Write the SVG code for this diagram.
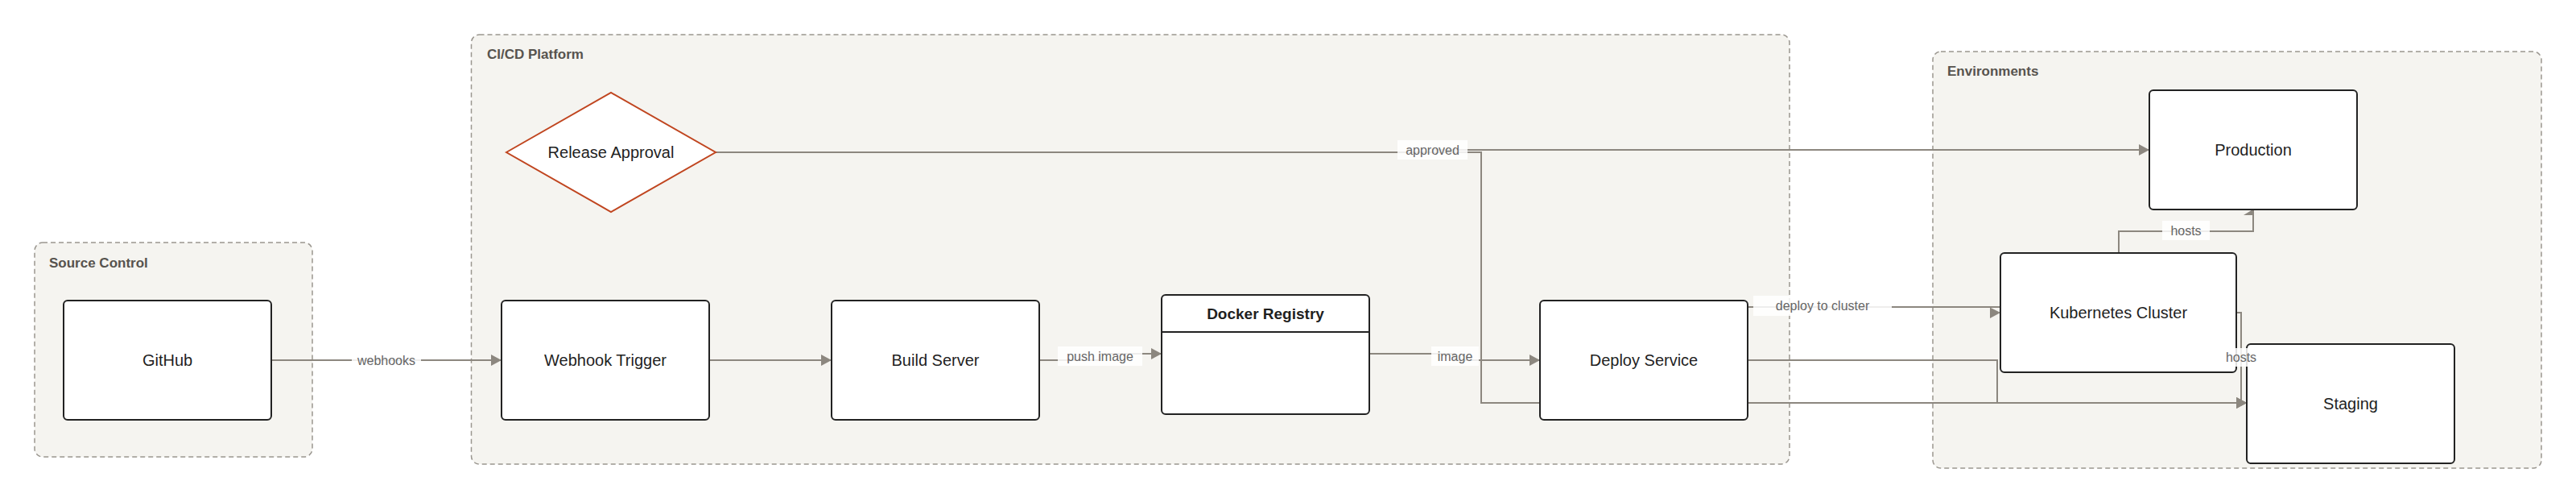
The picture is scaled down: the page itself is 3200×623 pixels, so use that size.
<svg xmlns="http://www.w3.org/2000/svg" width="3200" height="623" viewBox="0 0 3200 623">
<defs>
<style>
.grp{fill:#f5f4f0;stroke:#9a968f;stroke-width:1.5;stroke-dasharray:6 4}
.glbl{font-family:"Liberation Sans",Arial,sans-serif;font-size:17px;font-weight:bold;fill:#57534e}
.node{fill:#ffffff;stroke:#222222;stroke-width:2}
.ntxt{font-family:"Liberation Sans",Arial,sans-serif;font-size:20px;fill:#1f1f1f;text-anchor:middle}
.ttl{font-family:"Liberation Sans",Arial,sans-serif;font-size:19px;font-weight:bold;fill:#1f1f1f;text-anchor:middle}
.edge{fill:none;stroke:#8c877f;stroke-width:2}
.lbg{fill:#ffffff;fill-opacity:0.85}
.ltxt{font-family:"Liberation Sans",Arial,sans-serif;font-size:16px;fill:#666666;text-anchor:middle}
.ah{fill:#8c877f}
</style>
<marker id="arr" viewBox="0 0 13 14" refX="13" refY="7" markerWidth="13" markerHeight="14" markerUnits="userSpaceOnUse" orient="auto">
<path d="M0,0 L13,7 L0,14 z" fill="#8c877f"/>
</marker>
</defs>
<rect x="0" y="0" width="3200" height="623" fill="#ffffff"/>

<g id="cluster-source-control">
<rect class="grp" x="43" y="301" width="345" height="266" rx="10"/>
<text class="glbl" x="61" y="332">Source Control</text>
</g>
<g id="cluster-cicd">
<rect class="grp" x="585.5" y="43" width="1637.5" height="533" rx="10"/>
<text class="glbl" x="605" y="73">CI/CD Platform</text>
</g>
<g id="cluster-environments">
<rect class="grp" x="2401" y="64" width="756" height="517" rx="10"/>
<text class="glbl" x="2419" y="94">Environments</text>
</g>

<g id="connectors">
<path class="edge" d="M337,447 L623,447" marker-end="url(#arr)"/>
<path class="edge" d="M881,447 L1033,447" marker-end="url(#arr)"/>
<path class="edge" d="M1291,447 L1366,447 L1366,439 L1443,439" marker-end="url(#arr)"/>
<path class="edge" d="M1701,439 L1807,439 L1807,447 L1913,447" marker-end="url(#arr)"/>
<path class="edge" d="M889,189 L1780,189 L1780,186 L2670,186" marker-end="url(#arr)"/>
<path class="edge" d="M1780,189 L1840,189 L1840,500 L2791,500" marker-end="url(#arr)"/>
<path class="edge" d="M2172,381 L2485,381"/>
<polygon class="ah" points="2472,381.5 2485,388 2472,395"/>
<path class="edge" d="M2172,447 L2481,447 L2481,500 L2791,500" marker-end="url(#arr)"/>
<path class="edge" d="M2632,314 L2632,287 L2799,287 L2799,260"/>
<polygon class="ah" points="2787,267 2799,259.5 2799,267"/>
<path class="edge" d="M2778,388 L2784,388 L2784,500 L2791,500"/>
<polygon class="ah" points="2778,493 2791,500 2778,507"/>
</g>

<g id="node-github">
<rect class="node" x="79" y="373" width="258" height="148" rx="5"/>
<text class="ntxt" x="208" y="454">GitHub</text>
</g>
<g id="node-webhook-trigger">
<rect class="node" x="623" y="373" width="258" height="148" rx="5"/>
<text class="ntxt" x="752" y="454">Webhook Trigger</text>
</g>
<g id="node-build-server">
<rect class="node" x="1033" y="373" width="258" height="148" rx="5"/>
<text class="ntxt" x="1162" y="454">Build Server</text>
</g>
<g id="node-docker-registry">
<rect class="node" x="1443" y="366" width="258" height="148" rx="5"/>
<line x1="1443" y1="412" x2="1701" y2="412" stroke="#222222" stroke-width="2"/>
<text class="ttl" x="1572" y="396">Docker Registry</text>
</g>
<g id="node-deploy-service">
<rect class="node" x="1913" y="373" width="258" height="148" rx="5"/>
<text class="ntxt" x="2042" y="454">Deploy Service</text>
</g>
<g id="node-release-approval">
<polygon points="629,189 759,115 889,189 759,263" fill="#ffffff" stroke="#c0451f" stroke-width="2"/>
<text class="ntxt" x="759" y="196">Release Approval</text>
</g>
<g id="node-production">
<rect class="node" x="2670" y="112" width="258" height="148" rx="5"/>
<text class="ntxt" x="2799" y="193">Production</text>
</g>
<g id="node-kubernetes-cluster">
<rect class="node" x="2485" y="314" width="293" height="148" rx="5"/>
<text class="ntxt" x="2631.5" y="395">Kubernetes Cluster</text>
</g>
<g id="node-staging">
<rect class="node" x="2791" y="427" width="258" height="148" rx="5"/>
<text class="ntxt" x="2920" y="508">Staging</text>
</g>

<g id="connector-labels">
<rect class="lbg" x="437" y="435" width="86" height="24"/>
<text class="ltxt" x="480" y="452.5">webhooks</text>
<rect class="lbg" x="1314" y="430" width="105" height="24"/>
<text class="ltxt" x="1366.5" y="447.5">push image</text>
<rect class="lbg" x="1778" y="430" width="59" height="24"/>
<text class="ltxt" x="1807.5" y="447.5">image</text>
<rect class="lbg" x="1736" y="174" width="87" height="24"/>
<text class="ltxt" x="1779.5" y="191.5">approved</text>
<rect class="lbg" x="2178" y="367" width="172" height="25"/>
<text class="ltxt" x="2264" y="385">deploy to cluster</text>
<rect class="lbg" x="2686" y="274" width="59" height="24"/>
<text class="ltxt" x="2715.5" y="291.5">hosts</text>
<rect class="lbg" x="2765" y="432" width="38" height="23"/>
<text class="ltxt" x="2784" y="449">hosts</text>
</g>
</svg>
